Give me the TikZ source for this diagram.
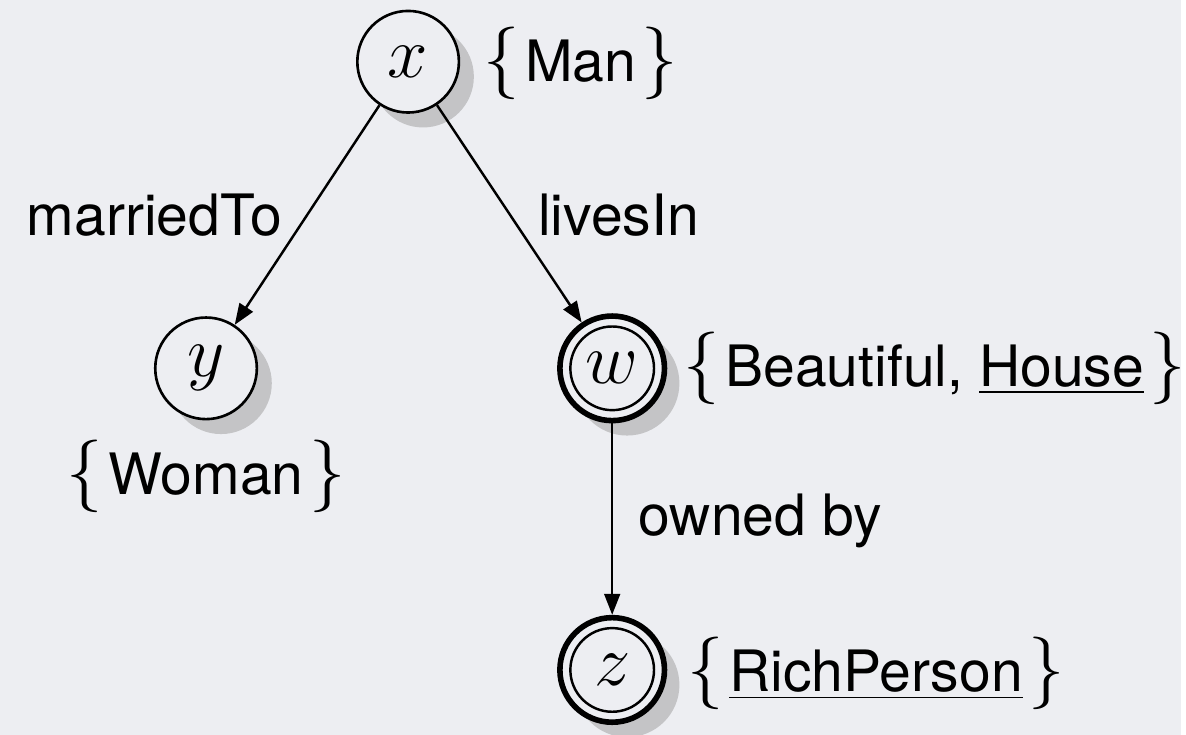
\documentclass[tikz,border=0pt]{standalone}
\usepackage{fontspec}
\setsansfont{TeX Gyre Heros}
\usetikzlibrary{arrows.meta,shadows}
\definecolor{bg}{RGB}{237,238,242}
\definecolor{shad}{RGB}{196,196,198}
\newcommand{\lbr}{{\fontsize{22}{20}\selectfont$\bigl\{$}\hspace{1.6pt}}
\newcommand{\rbr}{\hspace{1.6pt}{\fontsize{22}{20}\selectfont$\bigr\}$}}
\begin{document}
\begin{tikzpicture}[x=0.01cm,y=-0.01cm,
  var/.style={circle,draw=black,fill=bg,line width=0.75pt,minimum size=1.02cm,inner sep=0pt,
    font=\fontsize{20}{22}\selectfont,
    drop shadow={shadow xshift=0.15cm,shadow yshift=-0.15cm,fill=shad,opacity=1}},
  dvar/.style={var,line width=1.6pt,minimum size=1.05cm},
  lbl/.style={inner sep=0pt,font=\sffamily\fontsize{16.3}{20}\selectfont},
  edge/.style={-{Triangle[length=6pt,width=4.5pt]},line width=0.7pt}]
\fill[bg] (0,0) rectangle (1186,738);
\node[var] (x) at (410,62) {$x$};
\node[var] (y) at (207,370) {$y$};
\node[dvar] (w) at (615,370) {$w$};
\node[dvar] (z) at (615,673) {$z$};
\draw[line width=0.7pt] (w.center) circle[radius=0.42cm];
\draw[line width=0.7pt] (z.center) circle[radius=0.42cm];
\node[lbl,anchor=base west] (lx) at (485,82) {\lbr Man\rbr};
\node[lbl,anchor=base] (ly) at (207,497) {\lbr Woman\rbr};
\node[lbl,anchor=base west] (lw) at (686,388) {\lbr Beautiful, \underline{House}\rbr};
\node[lbl,anchor=base west] (lz) at (690,695) {\lbr\underline{RichPerson}\rbr};
\draw[edge] (x) -- (y);
\draw[edge] (x) -- (w);
\draw[edge] (w) -- (z);
\node[lbl,anchor=base] (e1) at (155,237) {marriedTo};
\node[lbl,anchor=base west] (e2) at (540,237) {livesIn};
\node[lbl,anchor=base west] (e3) at (641,538) {owned by};
\end{tikzpicture}
\end{document}
